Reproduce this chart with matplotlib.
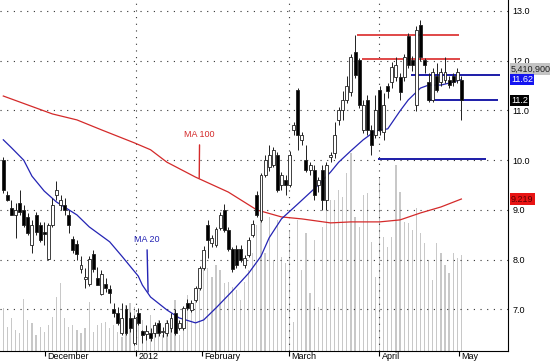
import matplotlib
matplotlib.use('Agg')
import matplotlib.pyplot as plt
import numpy as np

plt.rcParams['font.family'] = ['Liberation Sans', 'DejaVu Sans']
plt.rcParams['font.size'] = 6.5

# daily candles, Nov 2011 - May 2012
opens = [10.00, 9.30, 9.04, 8.90, 9.14, 9.00, 8.86, 8.30, 8.90, 8.70,
         8.56, 8.01, 8.70, 9.30, 9.10, 9.10, 8.90, 8.42, 8.32, 7.81,
         7.61, 7.51, 8.11, 7.63, 7.31, 7.51, 7.41, 7.01, 6.93, 6.53,
         7.01, 6.83, 6.33, 6.93, 6.57, 6.51, 6.53, 6.53, 6.73, 6.55,
         6.53, 6.63, 6.93, 6.63, 6.63, 7.13, 6.99, 7.19, 7.43, 7.83,
         8.70, 8.34, 8.30, 8.64, 9.00, 8.60, 8.22, 8.22, 8.22, 7.89,
         8.09, 8.50, 9.30, 8.80, 9.70, 9.86, 9.90, 10.10, 9.50, 9.60,
         9.50, 10.60, 11.41, 10.40, 10.00, 9.80, 9.80, 9.50, 9.80, 9.20,
         10.06, 10.14, 10.80, 11.00, 11.20, 11.37, 12.17, 12.01, 10.61, 11.21,
         10.61, 10.51, 11.41, 10.57, 11.49, 11.57, 11.67, 11.67, 11.67, 12.50,
         12.01, 11.11, 12.72, 12.01, 11.57, 11.21, 11.69, 11.57, 11.61, 11.61,
         11.69, 11.61, 11.61]
highs = [10.06, 9.38, 9.20, 9.14, 9.40, 9.10, 8.94, 8.80, 8.96, 8.76,
         8.76, 8.74, 9.24, 9.58, 9.30, 9.24, 9.00, 8.48, 8.40, 8.07,
         7.83, 8.07, 8.19, 7.85, 7.79, 7.63, 7.49, 7.13, 7.05, 7.13,
         7.09, 6.95, 6.89, 7.03, 6.59, 6.69, 6.63, 6.75, 6.79, 6.65,
         6.79, 6.93, 7.01, 6.79, 7.07, 7.21, 7.19, 7.47, 7.87, 8.27,
         8.80, 8.50, 8.66, 8.96, 9.12, 8.66, 8.26, 8.30, 8.30, 8.10,
         8.45, 8.80, 9.38, 9.74, 10.10, 10.30, 10.26, 10.16, 9.76, 9.70,
         10.18, 10.76, 11.45, 10.56, 10.30, 9.96, 9.90, 9.66, 9.90, 9.96,
         10.16, 10.76, 11.06, 11.40, 11.70, 12.13, 12.52, 12.05, 11.21, 11.31,
         10.71, 11.31, 11.50, 11.35, 11.55, 11.97, 12.07, 11.75, 12.13, 12.56,
         12.10, 12.70, 12.82, 12.05, 11.75, 11.85, 11.95, 11.85, 12.07, 11.69,
         11.75, 11.85, 11.69]
lows = [9.34, 9.18, 8.90, 8.44, 8.90, 8.66, 8.50, 8.13, 8.50, 8.36,
        8.30, 7.99, 8.66, 9.20, 9.00, 8.90, 8.54, 8.13, 7.99, 7.73,
        7.43, 7.47, 7.75, 7.49, 7.29, 7.35, 7.13, 6.85, 6.69, 6.49,
        6.49, 6.55, 6.29, 6.69, 6.33, 6.39, 6.37, 6.45, 6.47, 6.45,
        6.47, 6.55, 6.49, 6.59, 6.59, 6.99, 6.95, 7.15, 7.39, 7.79,
        8.03, 8.26, 8.26, 8.60, 8.56, 8.18, 7.75, 7.83, 7.95, 7.83,
        8.05, 8.46, 8.86, 8.76, 9.66, 9.78, 9.86, 9.36, 9.40, 9.30,
        9.46, 10.50, 10.20, 10.30, 9.76, 9.70, 9.20, 9.36, 9.00, 9.00,
        9.96, 10.04, 10.70, 10.80, 11.14, 11.30, 11.65, 11.05, 10.55, 10.50,
        10.10, 10.45, 10.50, 10.40, 11.25, 11.45, 11.60, 11.20, 11.60, 11.85,
        11.80, 10.99, 11.99, 11.75, 11.17, 11.17, 11.37, 11.50, 11.55, 11.45,
        11.50, 11.55, 10.81]
closes = [9.40, 9.20, 8.90, 9.00, 8.96, 8.70, 8.54, 8.70, 8.56, 8.40,
          8.52, 8.70, 9.10, 9.40, 9.20, 9.00, 8.70, 8.20, 8.11, 7.89,
          7.65, 8.01, 7.81, 7.49, 7.71, 7.43, 7.33, 6.93, 6.73, 6.83,
          6.53, 6.63, 6.83, 6.73, 6.49, 6.57, 6.43, 6.69, 6.53, 6.57,
          6.73, 6.83, 6.53, 6.73, 7.03, 7.03, 7.13, 7.43, 7.83, 8.19,
          8.40, 8.44, 8.62, 8.90, 8.60, 8.22, 7.81, 7.89, 7.99, 8.03,
          8.40, 8.72, 8.90, 9.70, 10.00, 10.10, 10.20, 9.40, 9.70, 9.50,
          10.10, 10.70, 10.50, 10.50, 9.80, 9.90, 9.30, 9.60, 9.20, 9.90,
          10.10, 10.50, 11.00, 11.20, 11.50, 12.07, 11.71, 11.11, 11.11, 10.61,
          10.31, 11.01, 10.61, 11.11, 11.39, 11.87, 11.91, 11.37, 12.07, 11.91,
          11.91, 12.62, 12.07, 11.91, 11.21, 11.77, 11.41, 11.77, 11.77, 11.51,
          11.57, 11.77, 11.21]
# volume, millions of shares
volumes = [2.43, 1.35, 1.86, 1.18, 1.02, 2.93, 1.75, 1.58, 0.90, 1.35,
           1.07, 1.47, 1.92, 3.05, 3.84, 1.86, 1.35, 1.47, 1.18, 1.02,
           1.30, 2.76, 1.07, 1.47, 1.58, 1.64, 1.30, 1.47, 1.07, 0.79,
           2.59, 2.71, 2.48, 2.31, 1.75, 1.18, 2.03, 1.47, 1.75, 0.90,
           1.75, 1.47, 2.88, 0.90, 2.03, 3.16, 2.48, 3.05, 3.84, 5.13,
           4.68, 4.17, 4.85, 4.57, 3.84, 3.89, 3.61, 3.44, 2.88, 3.89,
           4.57, 5.53, 7.11, 7.56, 5.53, 7.56, 5.13, 7.39, 5.30, 4.96,
           6.71, 1.64, 7.39, 4.57, 6.66, 3.27, 6.26, 2.48, 6.99, 8.91,
           8.52, 8.52, 9.08, 8.69, 10.04, 11.17, 7.56, 6.99, 8.80, 8.91,
           6.15, 4.17, 9.76, 6.43, 5.87, 6.43, 10.49, 8.97, 7.28, 7.22,
           6.82, 8.07, 6.66, 6.09, 5.13, 4.00, 6.09, 5.53, 4.85, 4.40,
           5.53, 5.25, 5.41]

# moving averages read at a few candles
ma20_idx = [0, 2, 5, 7, 10, 13, 18, 21, 26, 29, 33, 34, 36, 40, 43, 47, 49,
            52, 56, 60, 63, 65, 68, 72, 77, 80, 82, 85, 88, 91, 94, 97, 99,
            102, 104, 107, 109, 112]
ma20_val = [10.41, 10.25, 10.00, 9.68, 9.38, 9.16, 8.90, 8.66, 8.36, 8.07,
            7.67, 7.49, 7.25, 6.99, 6.83, 6.73, 6.79, 7.03, 7.37, 7.73,
            8.07, 8.44, 8.82, 9.12, 9.50, 9.76, 9.96, 10.19, 10.41, 10.59,
            10.63, 10.99, 11.21, 11.45, 11.51, 11.51, 11.55, 11.62]
ma100_idx = [0, 12, 18, 24, 32, 36, 40, 47, 55, 62, 68, 73, 80, 85, 92, 97,
             102, 107, 112]
ma100_val = [11.29, 10.93, 10.81, 10.61, 10.35, 10.21, 9.96, 9.66, 9.36,
             9.00, 8.86, 8.82, 8.74, 8.76, 8.76, 8.80, 8.94, 9.06, 9.22]

month_pos = [10.2, 32.4, 48.6, 69.9, 91.9, 111.3]
month_lbl = ['December', '2012', 'February', 'March', 'April', 'May']
vgrid_pos = [32.4, 69.9, 91.9]

# drawn levels: (price, start candle, end candle, colour)
levels = [(12.52, 86.4, 111.4, '#e04848'),
          (12.03, 87.7, 111.7, '#e04848'),
          (11.71, 99.7, 121.4, '#1c1ca8'),
          (11.21, 103.8, 120.9, '#1c1ca8'),
          (10.02, 91.6, 118.0, '#1c1ca8')]

x = np.arange(len(closes))
o = np.array(opens)
c = np.array(closes)

fig = plt.figure(figsize=(5.5, 3.64), dpi=100)
ax_vol = fig.add_axes([0, 13 / 364, 508 / 550, 351 / 364])
ax = ax_vol.twinx()

ax_vol.bar(x, volumes, width=0.3, color='#c8c8c8', linewidth=0)
ax_vol.set_ylim(0, 19.8)
ax_vol.set_yticks([])
for s in ['top', 'left', 'right']:
    ax_vol.spines[s].set_visible(False)
    ax.spines[s].set_visible(s == 'right')
ax.spines['bottom'].set_visible(False)

# grid
for lvl in range(7, 14):
    ax.axhline(lvl, color='#333333', lw=0.8, ls=(0, (1, 5)), zorder=1)
for p in vgrid_pos:
    ax.axvline(p, color='#333333', lw=0.8, ls=(0, (1, 5)), zorder=1)

ax.plot(ma100_idx, ma100_val, color='#d42a2a', lw=0.9, zorder=2)
ax.plot(ma20_idx, ma20_val, color='#2424b4', lw=0.9, zorder=2)

for price, x0, x1, col in levels:
    ax.hlines(price, x0, x1, color=col, lw=1.4, zorder=2)

ax.vlines(x, lows, highs, color='#202020', lw=0.7, zorder=3)
up = c >= o
ax.bar(x, np.maximum(np.abs(c - o), 0.02), bottom=np.minimum(o, c), width=0.72,
       color=np.where(up, 'white', 'black'), edgecolor='#202020',
       linewidth=0.6, zorder=4)

ax.set_xlim(-0.81, 123.4)
ax.set_ylim(6.165, 13.22)
ax.set_yticks(range(7, 14))
ax.set_yticklabels(['%.1f' % v for v in range(7, 14)])
ax.tick_params(axis='y', length=0, pad=3)

ax_vol.set_xticks(month_pos)
ax_vol.set_xticklabels([])
ax_vol.tick_params(axis='x', length=3.6, width=0.8, color='black')
ax_vol.spines['bottom'].set_color('black')
for p, lbl in zip(month_pos, month_lbl):
    ax_vol.text(p + 0.6, -0.004, lbl, transform=ax_vol.get_xaxis_transform(),
                ha='left', va='top')

ax.annotate('MA 100', xy=(47.9, 9.64), xytext=(48.0, 10.51), color='#d42a2a',
            ha='center', va='center',
            arrowprops=dict(arrowstyle='-', color='#d42a2a', lw=1.0, shrinkB=0))
ax.annotate('MA 20', xy=(35.4, 7.35), xytext=(35.1, 8.40), color='#2424b4',
            ha='center', va='center',
            arrowprops=dict(arrowstyle='-', color='#2424b4', lw=1.0, shrinkB=0))

tag = dict(boxstyle='square,pad=0.12')
ax.text(1.006, 1 - 69 / 351, '5,410,900', transform=ax.transAxes, ha='left',
        va='center', color='#202020', bbox=dict(tag, fc='#c4c4c4', ec='none'))
ax.text(1.006, 11.62, '11.62', transform=ax.get_yaxis_transform(), ha='left',
        va='center', color='white', bbox=dict(tag, fc='#1414f0', ec='none'))
ax.text(1.006, 11.2, '11.2', transform=ax.get_yaxis_transform(), ha='left',
        va='center', color='white', bbox=dict(tag, fc='black', ec='none'))
ax.text(1.006, 9.219, '9.219', transform=ax.get_yaxis_transform(), ha='left',
        va='center', color='#5a0000', bbox=dict(tag, fc='#e81414', ec='none'))

fig.savefig('out.png', dpi=100)
